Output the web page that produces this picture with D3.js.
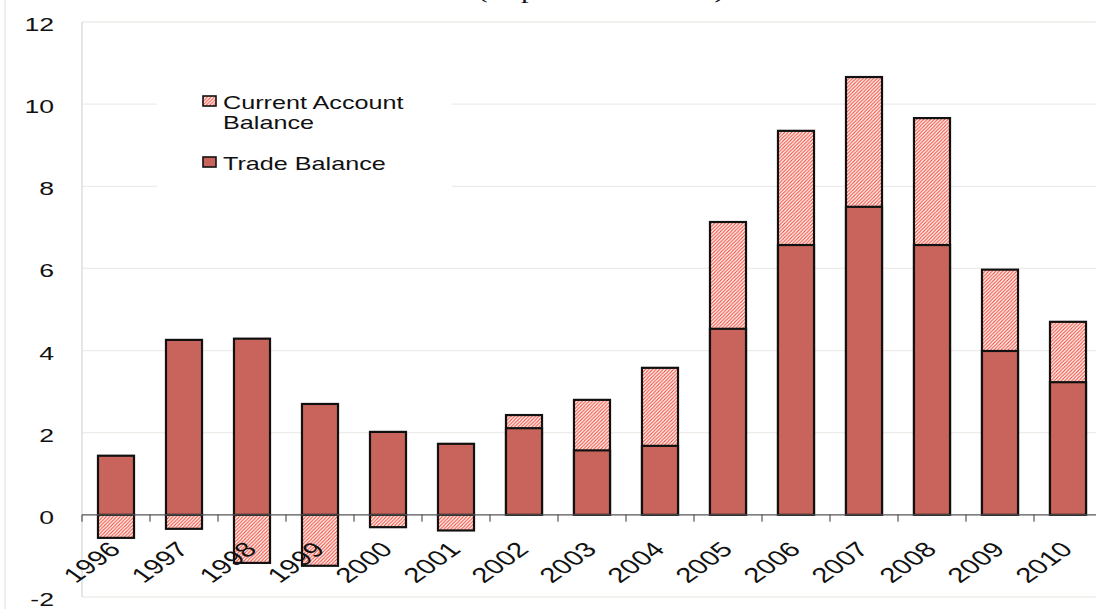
<!DOCTYPE html>
<html>
<head>
<meta charset="utf-8">
<script src="https://cdn.jsdelivr.net/npm/d3@7"></script>
<style>
  html, body { margin: 0; padding: 0; background: #fff; }
  svg { display: block; }
</style>
</head>
<body>
<svg width="1096" height="609"></svg>
<script>
const years = ["1996", "1997", "1998", "1999", "2000", "2001", "2002", "2003",
               "2004", "2005", "2006", "2007", "2008", "2009", "2010"];
const tradeBalance = [1.44, 4.26, 4.29, 2.70, 2.02, 1.73, 2.11, 1.57, 1.68, 4.53, 6.57, 7.50, 6.57, 3.99, 3.23];
const currentAccount = [-0.56, -0.34, -1.17, -1.24, -0.30, -0.38, 2.43, 2.80, 3.58, 7.13, 9.35, 10.66, 9.66, 5.97, 4.70];
const yTicks = [-2, 0, 2, 4, 6, 8, 10, 12];
const legendLabels = [["Current Account", "Balance"], ["Trade Balance"]];
const titleText = "(In percent of GDP)";

const svg = d3.select("svg");
const width = 1096;
const sx = 1.4; // the picture is stretched sideways, text too

const x = d3.scaleBand()
  .domain(years)
  .range([82, 82 + 68 * years.length])
  .paddingInner(0.47)
  .paddingOuter(0.235);

const y = d3.scaleLinear()
  .domain([-2, 12])
  .range([597, 22]);

// hatch for current account
const defs = svg.append("defs");
const pat = defs.append("pattern")
  .attr("id", "hatch")
  .attr("patternUnits", "userSpaceOnUse")
  .attr("width", 3.5)
  .attr("height", 3.5);
pat.append("rect").attr("width", 3.5).attr("height", 3.5).attr("fill", "#fff");
pat.append("path")
  .attr("d", "M-1,1 l2,-2 M0,3.5 l3.5,-3.5 M2.5,4.5 l2,-2")
  .attr("stroke", "#f5503f")
  .attr("stroke-width", 1.1);

// outer frame line
svg.append("line")
  .attr("x1", 5).attr("x2", 5).attr("y1", 0).attr("y2", 609)
  .attr("stroke", "#ddd");

// gridlines
svg.append("g")
  .selectAll("line")
  .data(yTicks.filter(d => d !== 0))
  .join("line")
  .attr("x1", 82).attr("x2", width)
  .attr("y1", d => y(d)).attr("y2", d => y(d))
  .attr("stroke", "#eeece8")
  .attr("stroke-width", 1.3);

// left axis line
svg.append("line")
  .attr("x1", 82).attr("x2", 82).attr("y1", y(12)).attr("y2", y(-2))
  .attr("stroke", "#d8d8d8")
  .attr("stroke-width", 1.3);

// y labels
svg.append("g")
  .selectAll("text")
  .data(yTicks)
  .join("text")
  .attr("transform", d => `translate(54, ${y(d) + 9}) scale(${sx},1)`)
  .attr("text-anchor", "end")
  .attr("font-family", "Liberation Sans, Arial, sans-serif")
  .attr("font-size", "19px")
  .attr("fill", "#111")
  .text(d => d);

// legend background covers the gridlines
svg.append("rect")
  .attr("x", 157).attr("y", 72)
  .attr("width", 295).attr("height", 120)
  .attr("fill", "#fff");

// current account bars (behind)
svg.append("g")
  .selectAll("rect")
  .data(years)
  .join("rect")
  .attr("x", d => x(d))
  .attr("width", x.bandwidth())
  .attr("y", (d, i) => y(Math.max(0, currentAccount[i])))
  .attr("height", (d, i) => Math.abs(y(currentAccount[i]) - y(0)))
  .attr("fill", "url(#hatch)")
  .attr("stroke", "#111")
  .attr("stroke-width", 2.2);

// trade balance bars
svg.append("g")
  .selectAll("rect")
  .data(years)
  .join("rect")
  .attr("x", d => x(d))
  .attr("width", x.bandwidth())
  .attr("y", (d, i) => y(Math.max(0, tradeBalance[i])))
  .attr("height", (d, i) => Math.abs(y(tradeBalance[i]) - y(0)))
  .attr("fill", "#c9645c")
  .attr("stroke", "#111")
  .attr("stroke-width", 2.2);

// zero axis with ticks at category edges
svg.append("line")
  .attr("x1", 82).attr("x2", width)
  .attr("y1", y(0)).attr("y2", y(0))
  .attr("stroke", "#555")
  .attr("stroke-width", 1.2);

svg.append("g")
  .selectAll("line")
  .data(years)
  .join("line")
  .attr("x1", d => x(d) - x.step() * 0.235)
  .attr("x2", d => x(d) - x.step() * 0.235)
  .attr("y1", y(0)).attr("y2", y(0) + 7)
  .attr("stroke", "#555")
  .attr("stroke-width", 1.2);

// x labels, rotated
svg.append("g")
  .selectAll("text")
  .data(years)
  .join("text")
  .attr("transform", d => `translate(${x(d) + x.bandwidth() / 2 + 6}, ${y(0) + 36}) scale(${sx},1) rotate(-45)`)
  .attr("text-anchor", "end")
  .attr("font-family", "Liberation Sans, Arial, sans-serif")
  .attr("font-size", "21px")
  .attr("fill", "#111")
  .text(d => d);

// legend
const legend = svg.append("g").attr("transform", "translate(203, 0)");
legend.append("rect")
  .attr("x", 0).attr("y", 96).attr("width", 13).attr("height", 10)
  .attr("fill", "url(#hatch)").attr("stroke", "#111").attr("stroke-width", 1.6);
legend.append("rect")
  .attr("x", 0).attr("y", 157).attr("width", 13).attr("height", 10)
  .attr("fill", "#c9645c").attr("stroke", "#111").attr("stroke-width", 1.6);

const legendY = [[109, 129], [170]];
legendLabels.forEach((lines, i) => {
  lines.forEach((t, j) => {
    legend.append("text")
      .attr("transform", `translate(20, ${legendY[i][j]}) scale(${sx},1)`)
      .attr("font-family", "Liberation Sans, Arial, sans-serif")
      .attr("font-size", "18px")
      .attr("fill", "#111")
      .text(t);
  });
});

// title, mostly cut off at the top like the source
svg.append("text")
  .attr("transform", `translate(601, -2) scale(${sx},1)`)
  .attr("text-anchor", "middle")
  .attr("font-family", "Liberation Serif, Times New Roman, serif")
  .attr("font-size", "22px")
  .attr("fill", "#111")
  .text(titleText);
</script>
</body>
</html>
